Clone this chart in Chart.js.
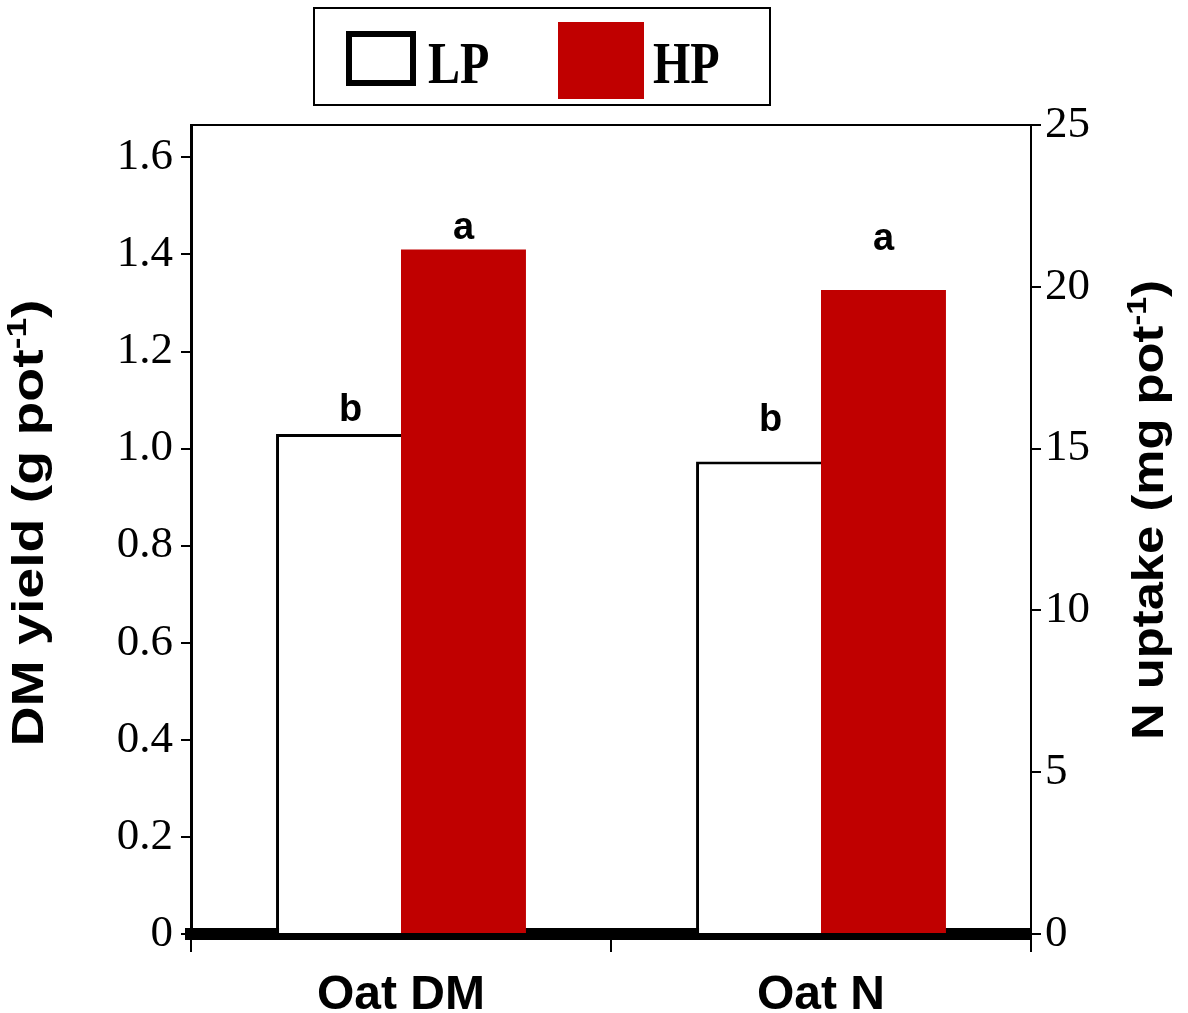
<!DOCTYPE html>
<html>
<head>
<meta charset="utf-8">
<script src="https://cdn.jsdelivr.net/npm/chart.js@4.4.1/dist/chart.umd.min.js"></script>
<style>
    html, body { margin: 0; padding: 0; background: #fff; }
    #wrap { width: 1188px; height: 1013px; position: relative; }
</style>
</head>
<body>
<div id="wrap"><canvas id="oatChart"></canvas></div>
<script>
// Oat DM yield (g/pot, left axis) and N uptake (mg/pot, right axis)
const categories = ['Oat DM', 'Oat N'];
const categoryAxis = ['y', 'y2'];
const lpValues = [1.03, 14.6];
const hpValues = [1.41, 19.9];
const lpLetters = ['b', 'b'];
const hpLetters = ['a', 'a'];
const dmTicks = [0, 0.2, 0.4, 0.6, 0.8, 1.0, 1.2, 1.4, 1.6];
const nTicks = [0, 5, 10, 15, 20, 25];

const LP_COLOR = '#ffffff';
const HP_COLOR = '#c00000';
const SANS = '"Liberation Sans", Arial, sans-serif';
const SERIF = '"Liberation Serif", "Times New Roman", serif';

// one dataset per treatment and axis, so each category sits on its own scale
function seriesFor(values, axis) {
    return values.map((v, i) => (categoryAxis[i] === axis ? v : null));
}

const datasets = [];
categoryAxis.forEach(axis => {
    datasets.push({
        label: 'LP',
        stack: 'LP',
        yAxisID: axis,
        data: seriesFor(lpValues, axis),
        backgroundColor: LP_COLOR,
        borderColor: '#000',
        borderWidth: { top: 3, left: 3, right: 0, bottom: 0 },
        letters: lpLetters
    });
});
categoryAxis.forEach(axis => {
    datasets.push({
        label: 'HP',
        stack: 'HP',
        yAxisID: axis,
        data: seriesFor(hpValues, axis),
        backgroundColor: HP_COLOR,
        borderWidth: 0,
        letters: hpLetters
    });
});

// significance letters above the bars
const letterLift = { LP: [13, 31], HP: [11, 40] };
const letterShift = { LP: 12, HP: 0 };

const letterPlugin = {
    id: 'letters',
    afterDatasetsDraw(chart) {
        const ctx = chart.ctx;
        ctx.save();
        ctx.fillStyle = '#000';
        ctx.font = 'bold 38px ' + SANS;
        ctx.textAlign = 'center';
        ctx.textBaseline = 'alphabetic';
        chart.data.datasets.forEach((ds, di) => {
            const meta = chart.getDatasetMeta(di);
            ds.data.forEach((v, i) => {
                if (v === null) return;
                const el = meta.data[i];
                ctx.fillText(ds.letters[i], el.x + letterShift[ds.stack], el.y - letterLift[ds.stack][i]);
            });
        });
        ctx.restore();
    }
};

// rotated axis titles with a superscript, read bottom to top
function drawTitle(ctx, x, y, main, sup, tail, length) {
    const big = 'bold 44px ' + SANS;
    const small = 'bold 28px ' + SANS;
    ctx.font = big;
    const w1 = ctx.measureText(main).width;
    const w3 = ctx.measureText(tail).width;
    ctx.font = small;
    const w2 = ctx.measureText(sup).width;
    const total = w1 + w2 + w3;
    ctx.save();
    ctx.translate(x, y);
    ctx.rotate(-Math.PI / 2);
    ctx.scale(length / total, 1);
    ctx.fillStyle = '#000';
    ctx.textBaseline = 'alphabetic';
    ctx.textAlign = 'left';
    let pos = -total / 2;
    ctx.font = big;
    ctx.fillText(main, pos, 0);
    pos += w1;
    ctx.font = small;
    ctx.fillText(sup, pos, -17);
    pos += w2;
    ctx.font = big;
    ctx.fillText(tail, pos, 0);
    ctx.restore();
}

const titlePlugin = {
    id: 'axisTitles',
    afterDraw(chart) {
        const ctx = chart.ctx;
        drawTitle(ctx, 43, 523, 'DM yield (g pot', '-1', ')', 447);
        drawTitle(ctx, 1163, 510, 'N uptake (mg pot', '-1', ')', 460);
    }
};

// boxed legend: hollow LP square, solid HP square
const legendPlugin = {
    id: 'boxLegend',
    afterDraw(chart) {
        const ctx = chart.ctx;
        ctx.save();
        ctx.strokeStyle = '#000';
        ctx.lineWidth = 2;
        ctx.strokeRect(314, 8, 456, 97);

        ctx.lineWidth = 6;
        ctx.strokeRect(349, 34, 64, 49);
        ctx.fillStyle = HP_COLOR;
        ctx.fillRect(558, 22, 86, 77);

        ctx.fillStyle = '#000';
        ctx.font = 'bold 48px ' + SERIF;
        ctx.textAlign = 'left';
        ctx.textBaseline = 'alphabetic';
        ctx.save();
        ctx.translate(0, 83);
        ctx.scale(1, 1.25);
        ctx.fillText('LP', 428, 0);
        ctx.fillText('HP', 653, 0);
        ctx.restore();
        ctx.restore();
    }
};

new Chart(document.getElementById('oatChart'), {
    type: 'bar',
    data: {
        labels: categories,
        datasets: datasets
    },
    options: {
        responsive: true,
        maintainAspectRatio: false,
        animation: false,
        layout: { padding: { top: 125, left: 0, right: 0, bottom: 0 } },
        datasets: {
            bar: {
                barPercentage: 1.0,
                categoryPercentage: 0.595
            }
        },
        plugins: {
            legend: { display: false },
            tooltip: { enabled: false },
            title: { display: false }
        },
        scales: {
            x: {
                position: 'bottom',
                grid: {
                    drawOnChartArea: false,
                    tickLength: 18,
                    color: '#000',
                    lineWidth: 2
                },
                border: { display: true, width: 12, color: '#000' },
                ticks: {
                    color: '#000',
                    padding: 15,
                    font: { family: SANS, weight: 'bold', size: 48 }
                },
                afterFit: scale => { scale.height = 79; }
            },
            xTop: {
                type: 'category',
                position: 'top',
                grid: { display: false },
                ticks: { display: false },
                border: { display: true, width: 2, color: '#000' },
                afterFit: scale => { scale.height = 0; }
            },
            y: {
                position: 'left',
                min: 0,
                max: 25 / 15,
                stacked: false,
                afterBuildTicks: scale => {
                    scale.ticks = dmTicks.map(v => ({ value: v }));
                },
                ticks: {
                    color: '#000',
                    padding: 8,
                    font: { family: SERIF, size: 45 },
                    callback: v => (v === 0 ? '0' : v.toFixed(1))
                },
                grid: {
                    drawOnChartArea: false,
                    tickLength: 10,
                    color: '#000',
                    lineWidth: 2
                },
                border: { display: true, width: 3, color: '#000' },
                afterFit: scale => { scale.width = 191; }
            },
            y2: {
                position: 'right',
                min: 0,
                max: 25,
                stacked: false,
                afterBuildTicks: scale => {
                    scale.ticks = nTicks.map(v => ({ value: v }));
                },
                ticks: {
                    color: '#000',
                    padding: 4,
                    font: { family: SERIF, size: 45 },
                    callback: v => String(v)
                },
                grid: {
                    drawOnChartArea: false,
                    tickLength: 10,
                    color: '#000',
                    lineWidth: 2
                },
                border: { display: true, width: 2, color: '#000' },
                afterFit: scale => { scale.width = 157; }
            }
        }
    },
    plugins: [letterPlugin, titlePlugin, legendPlugin]
});
</script>
</body>
</html>
